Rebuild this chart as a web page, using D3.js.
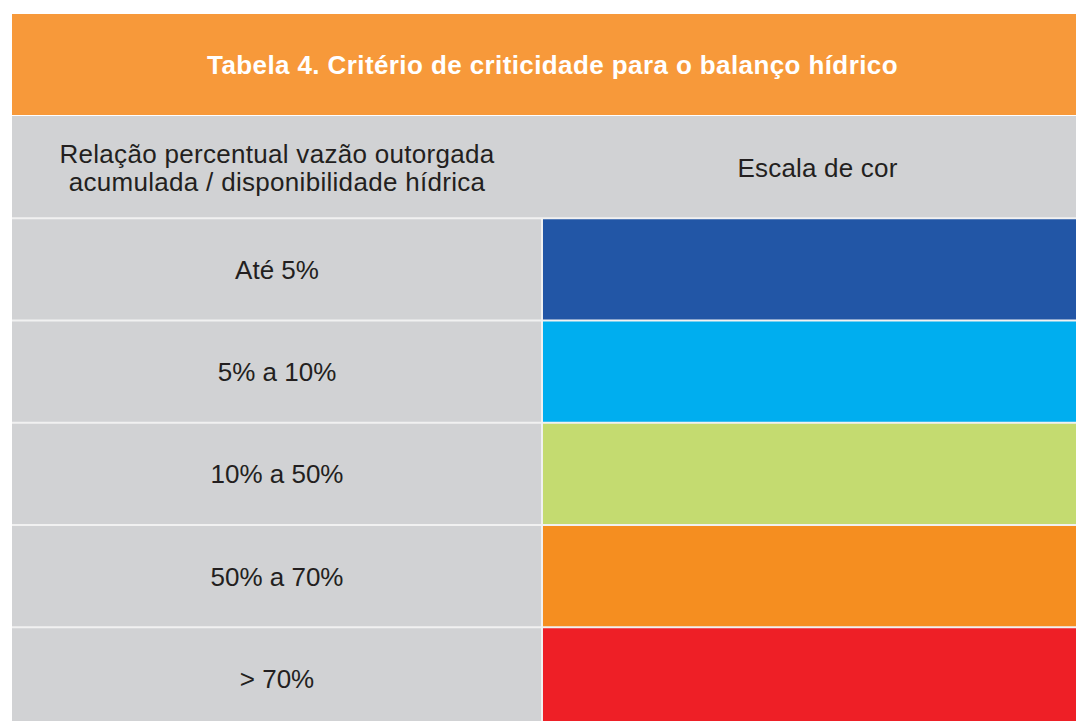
<!DOCTYPE html>
<html>
<head>
<meta charset="utf-8">
<script src="https://cdn.jsdelivr.net/npm/d3@7"></script>
<style>
  html, body { margin: 0; padding: 0; background: #ffffff; overflow: hidden; }
  svg { display: block; }
  text { font-family: "Liberation Sans", Arial, Helvetica, sans-serif; }
</style>
</head>
<body>
<svg id="chart" width="1076" height="721"></svg>
<script>
// ---- data ----
const title = "Tabela 4. Critério de criticidade para o balanço hídrico";
const headerLeft = ["Relação percentual vazão outorgada", "acumulada / disponibilidade hídrica"];
const headerRight = "Escala de cor";
const categories = ["Até 5%", "5% a 10%", "10% a 50%", "50% a 70%", "> 70%"];
const colors = ["#2256a6", "#00aeef", "#c4db70", "#f58e20", "#ee1f26"];

// ---- layout ----
const W = 1076, H = 721;
const left = 12, right = 1093, split = 542;
const headTop = 14, headBottom = 115;
const bodyTop = 116, rowH = 102.25;

const svg = d3.select("#chart");

const rowKeys = ["__header__", ...categories];
const y = d3.scaleBand().domain(rowKeys).range([bodyTop, bodyTop + rowH * rowKeys.length]).paddingInner(0).paddingOuter(0);
const x = d3.scaleOrdinal().domain(["label", "color"]).range([left, split]);

// title bar
svg.append("rect").attr("x", left).attr("y", headTop).attr("width", right - left).attr("height", headBottom - headTop).attr("fill", "#f7993a");
svg.append("text").attr("x", (left + right) / 2).attr("y", 73.5).attr("text-anchor", "middle")
  .attr("fill", "#ffffff").attr("font-weight", "bold").attr("font-size", 26).attr("letter-spacing", 0.4).text(title);

// gray body
svg.append("rect").attr("x", left).attr("y", bodyTop).attr("width", right - left).attr("height", H - bodyTop + 20).attr("fill", "#d1d2d4");

// color cells
svg.selectAll("rect.cell").data(categories).join("rect").attr("class", "cell")
  .attr("x", x("color")).attr("y", d => y(d))
  .attr("width", right - x("color")).attr("height", y.bandwidth())
  .attr("fill", (d, i) => colors[i]);

// separators
svg.selectAll("rect.hsep").data(categories).join("rect").attr("class", "hsep")
  .attr("x", left).attr("y", d => y(d) - 1).attr("width", right - left).attr("height", 2)
  .attr("fill", "#f1f1f1");
svg.append("rect").attr("x", split - 1).attr("y", y(categories[0])).attr("width", 2).attr("height", H)
  .attr("fill", "#f1f1f1");

// header row texts
const hc = y("__header__") + y.bandwidth() / 2;
const labelX = (left + split) / 2;
svg.append("text").attr("x", labelX).attr("text-anchor", "middle").attr("fill", "#231f20").attr("font-size", 26)
  .attr("letter-spacing", 0.3)
  .selectAll("tspan").data(headerLeft).join("tspan")
  .attr("x", labelX).attr("y", (d, i) => hc - 4 + i * 28).text(d => d);
svg.append("text").attr("x", (split + right) / 2).attr("y", hc + 10).attr("text-anchor", "middle")
  .attr("fill", "#231f20").attr("font-size", 26).attr("letter-spacing", 0.2).text(headerRight);

// category labels
svg.selectAll("text.cat").data(categories).join("text").attr("class", "cat")
  .attr("x", labelX).attr("y", d => y(d) + y.bandwidth() / 2 + 9.5)
  .attr("text-anchor", "middle").attr("fill", "#231f20").attr("font-size", 26).text(d => d);
</script>
</body>
</html>
